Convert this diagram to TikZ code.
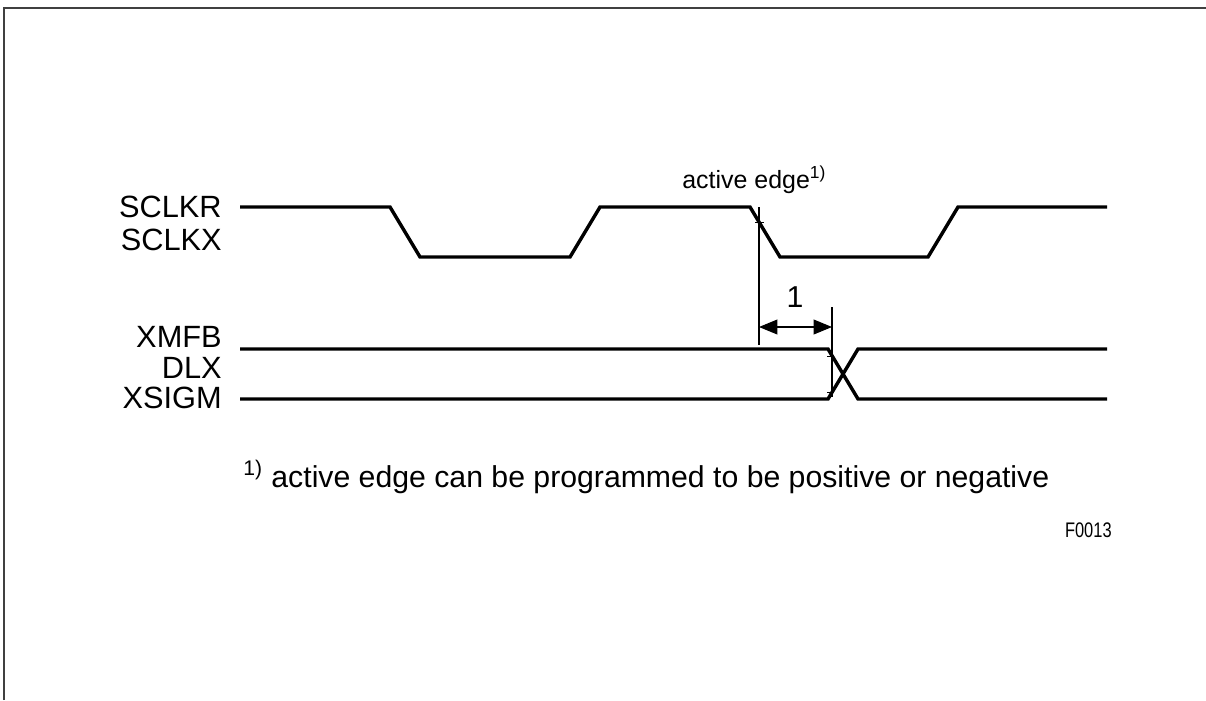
\documentclass[tikz,border=0pt]{standalone}
\usepackage{fontspec}
\setmainfont{Liberation Sans}
\usetikzlibrary{arrows.meta}
\begin{document}
\begin{tikzpicture}[x=0.02cm,y=-0.02cm,
  sig/.style={line width=1.95pt, line join=miter},
  dim/.style={line width=0.6pt},
  tick/.style={line width=0.5pt},
  lbl/.style={font=\fontsize{17.5}{20}\selectfont, anchor=east, inner sep=0pt},
  txt/.style={font=\fontsize{17.2}{20}\selectfont, inner sep=0pt},
  dimarrows/.style={{Triangle[length=10.5pt,width=8.5pt]}-{Triangle[length=10.5pt,width=8.5pt]}}]
\useasboundingbox (0,0) rectangle (1206,700);
\draw[line width=1.1pt, draw=black!75] (4,700) -- (4,8) -- (1206,8);
% labels
\node[lbl] (sclkr) at (222,207) {SCLKR};
\node[lbl] (sclkx) at (222,240) {SCLKX};
\node[lbl] (xmfb) at (222,337) {XMFB};
\node[lbl] (dlx) at (222,368) {DLX};
\node[lbl] (xsigm) at (222,398) {XSIGM};
% clock
\draw[sig] (240,207) -- (390,207) -- (420,257) -- (570,257) -- (600,207) -- (750,207) -- (780,257) -- (928,257) -- (958,207) -- (1107,207);
% data
\draw[sig] (240,349) -- (828,349) -- (858,399) -- (1107,399);
\draw[sig] (240,399) -- (828,399) -- (858,349) -- (1107,349);
% dimension lines
\coordinate (l1) at (759,207);
\coordinate (l2) at (759,345);
\coordinate (r1) at (832,307);
\coordinate (r2) at (832,397);
\draw[dim] (l1) -- (l2);
\draw[dim] (r1) -- (r2);
\draw[tick] (755,222) -- (764,222);
\draw[tick] (827,356) -- (834,356);
\draw[tick] (827,392) -- (834,392);
\coordinate (al) at (759,327);
\coordinate (ar) at (832,327);
\draw[dim, dimarrows] (al) -- (ar);
\node[txt] (one) at (795,297) {1};
\node[font=\fontsize{14.2}{16}\selectfont, anchor=base west, inner sep=0pt] (ae) at (682,188) {active edge\textsuperscript{1)}};
\node[txt, anchor=base west] (fn) at (243,487) {\textsuperscript{1)} active edge can be programmed to be positive or negative};
\node[anchor=east, inner sep=0pt, font=\fontsize{12}{14}\selectfont] (fig) at (1112,530) {\scalebox{0.78}[1]{F0013}};
\end{tikzpicture}
\end{document}
